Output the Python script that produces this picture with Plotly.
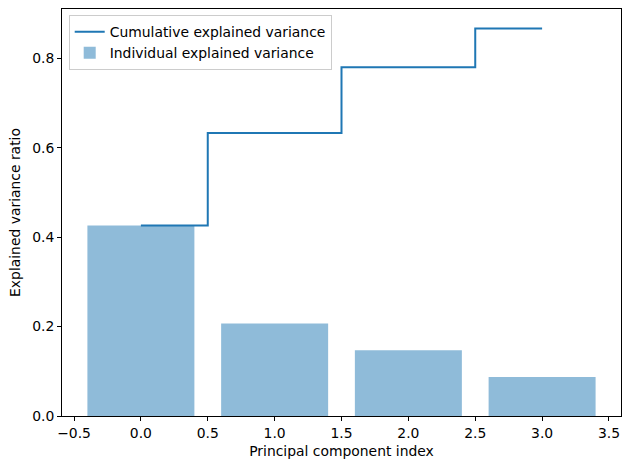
import plotly.graph_objects as go
import numpy as np

components = [0, 1, 2, 3]
individual = [0.426, 0.207, 0.147, 0.087]
cumulative = list(np.cumsum(individual))
x_ticks = [-0.5, 0.0, 0.5, 1.0, 1.5, 2.0, 2.5, 3.0, 3.5]
y_ticks = [0.0, 0.2, 0.4, 0.6, 0.8]

fig = go.Figure()
fig.add_trace(go.Bar(
    x=components, y=individual, width=0.8,
    marker=dict(color="rgba(31,119,180,0.5)", line=dict(width=0)),
    name="Individual explained variance", legendrank=2,
))
fig.add_trace(go.Scatter(
    x=components, y=cumulative, mode="lines",
    line=dict(color="#1f77b4", width=2, shape="hvh"),
    name="Cumulative explained variance", legendrank=1,
))

font = dict(family="DejaVu Sans", size=13.9, color="black")
lfont = dict(family="DejaVu Sans", size=13.9, color="black")
fig.update_layout(
    width=622, height=459,
    margin=dict(l=62, r=1, t=9, b=43),
    paper_bgcolor="white", plot_bgcolor="white",
    font=font,
    showlegend=True,
    legend=dict(x=0.012, y=0.985, xanchor="left", yanchor="top",
                bgcolor="rgba(255,255,255,0.8)", bordercolor="#cccccc", borderwidth=1,
                font=lfont, tracegroupgap=0, itemwidth=30),
    xaxis=dict(range=[-0.59, 3.59], tickvals=x_ticks, ticktext=[f"{v:.1f}".replace("-", "\u2212") for v in x_ticks],
               showgrid=False, zeroline=False, showline=True, linecolor="black", linewidth=1,
               mirror=True, ticks="outside", ticklen=4, tickcolor="black",
               title=dict(text="Principal component index", font=font, standoff=7)),
    yaxis=dict(range=[0, 0.867 * 1.05], tickvals=y_ticks, ticktext=[f"{v:.1f}" for v in y_ticks],
               showgrid=False, zeroline=False, showline=True, linecolor="black", linewidth=1,
               mirror=True, ticks="outside", ticklen=4, tickcolor="black",
               title=dict(text="Explained variance ratio", font=font, standoff=8)),
    bargap=0.2,
)
fig.write_html("out.html")
